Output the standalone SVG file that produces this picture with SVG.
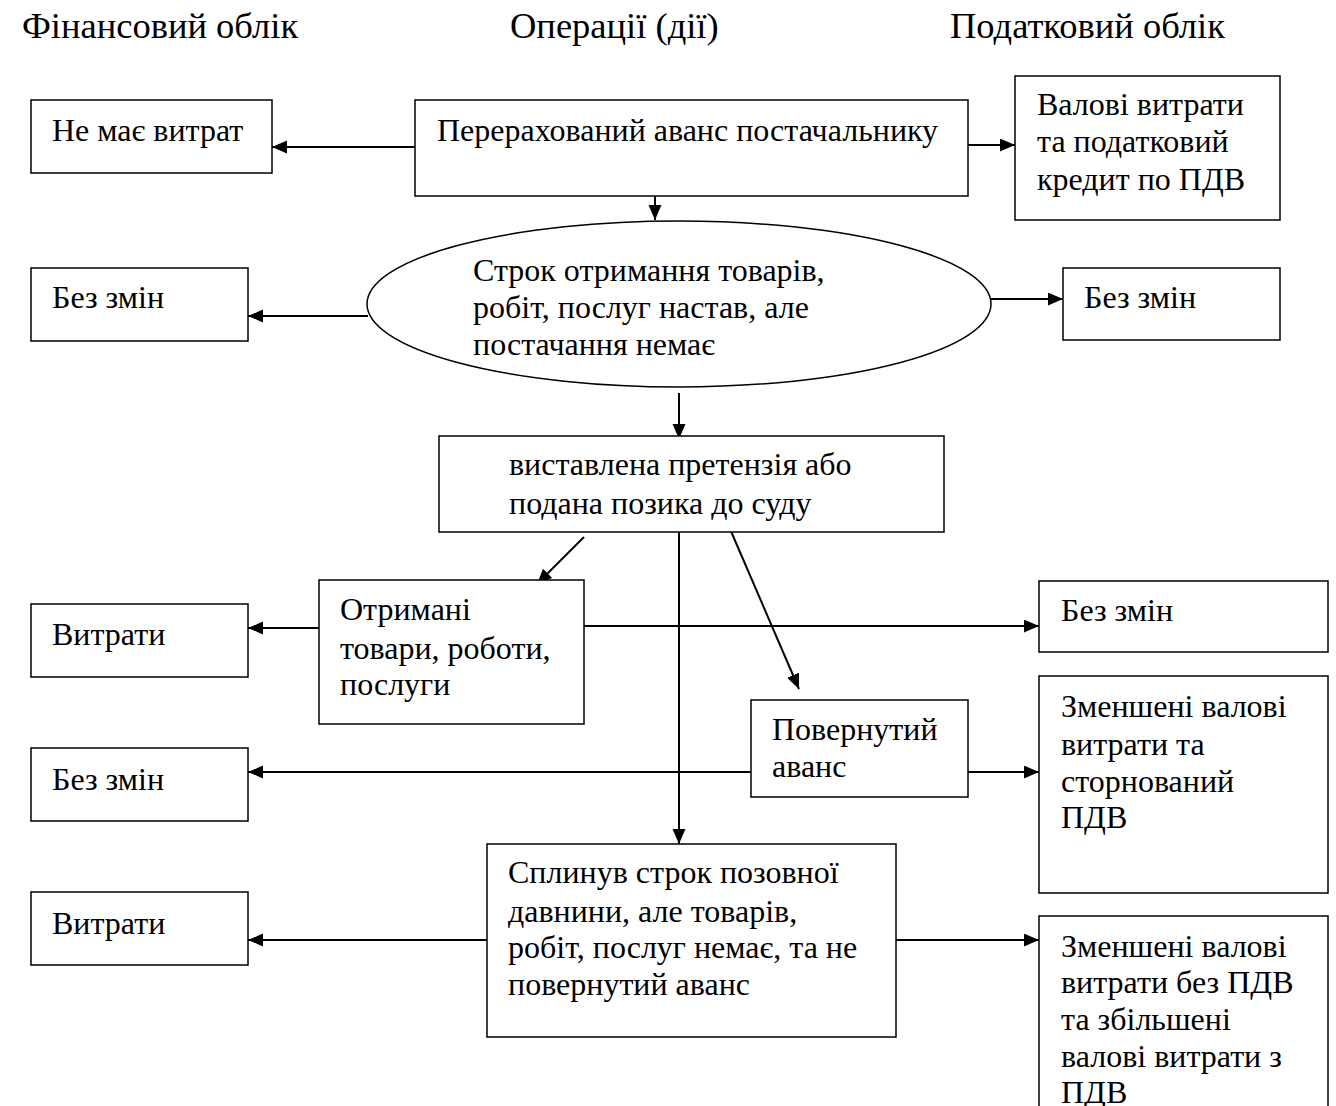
<svg xmlns="http://www.w3.org/2000/svg" width="1336" height="1106" viewBox="0 0 1336 1106">
<style>
text{font-family:"Liberation Serif","Times New Roman",serif;font-size:32px;fill:#000}
.h{font-size:36.5px}
.box{fill:#fff;stroke:#000;stroke-width:1.5}
.c line{stroke:#000;stroke-width:2}
.a{marker-end:url(#ah)}
</style>
<defs>
<marker id="ah" markerUnits="userSpaceOnUse" markerWidth="16" markerHeight="14" refX="15" refY="6.5" orient="auto">
<path d="M0,0 L15,6.5 L0,13 z" fill="#000"/>
</marker>
</defs>
<rect width="1336" height="1106" fill="#fff"/>
<g id="headers">
<text class="h" x="22" y="38">Фінансовий облік</text>
<text class="h" x="510" y="38">Операції (дії)</text>
<text class="h" x="950" y="38">Податковий облік</text>
</g>
<g class="c" id="connectors">
<line class="a" x1="415" y1="147" x2="272" y2="147"/>
<line class="a" x1="968" y1="145" x2="1015" y2="145"/>
<line class="a" x1="655" y1="196" x2="655" y2="220"/>
<line class="a" x1="368" y1="316" x2="248" y2="316"/>
<line class="a" x1="991" y1="299" x2="1063" y2="299"/>
<line class="a" x1="679" y1="393" x2="679" y2="439"/>
<line class="a" x1="584" y1="537" x2="537" y2="584"/>
<line class="a" x1="727" y1="522" x2="799" y2="689"/>
<line class="a" x1="679" y1="532" x2="679" y2="844"/>
<line class="a" x1="319" y1="628" x2="248" y2="628"/>
<line class="a" x1="584" y1="626" x2="1039" y2="626"/>
<line class="a" x1="751" y1="772" x2="248" y2="772"/>
<line class="a" x1="968" y1="772" x2="1039" y2="772"/>
<line class="a" x1="487" y1="940" x2="248" y2="940"/>
<line class="a" x1="896" y1="940" x2="1039" y2="940"/>
</g>
<g id="n-nemae"><rect class="box" x="31" y="100" width="241" height="73"/><text x="52" y="141">Не має витрат</text></g>
<g id="n-avans"><rect class="box" x="415" y="100" width="553" height="96"/><text x="437" y="141">Перерахований аванс постачальнику</text></g>
<g id="n-valovi"><rect class="box" x="1015" y="76" width="265" height="144"/><text x="1037" y="115">Валові витрати</text><text x="1037" y="152">та податковий</text><text x="1037" y="190">кредит по ПДВ</text></g>
<g id="n-bez1"><rect class="box" x="31" y="268" width="217" height="73"/><text x="52" y="308">Без змін</text></g>
<g id="n-strok"><ellipse class="box" cx="679" cy="304" rx="312" ry="83"/><text x="473" y="281">Строк отримання товарів,</text><text x="473" y="318">робіт, послуг настав, але</text><text x="473" y="355">постачання немає</text></g>
<g id="n-bez2"><rect class="box" x="1063" y="268" width="217" height="72"/><text x="1084" y="308">Без змін</text></g>
<g id="n-pretenz"><rect class="box" x="439" y="436" width="505" height="96"/><text x="509" y="475">виставлена претензія або</text><text x="509" y="514">подана позика до суду</text></g>
<g id="n-otrym"><rect class="box" x="319" y="580" width="265" height="144"/><text x="340" y="620">Отримані</text><text x="340" y="659">товари, роботи,</text><text x="340" y="695">послуги</text></g>
<g id="n-vytr1"><rect class="box" x="31" y="604" width="217" height="73"/><text x="52" y="645">Витрати</text></g>
<g id="n-bez3"><rect class="box" x="1039" y="581" width="289" height="71"/><text x="1061" y="621">Без змін</text></g>
<g id="n-povern"><rect class="box" x="751" y="700" width="217" height="97"/><text x="772" y="740">Повернутий</text><text x="772" y="777">аванс</text></g>
<g id="n-bez4"><rect class="box" x="31" y="748" width="217" height="73"/><text x="52" y="790">Без змін</text></g>
<g id="n-zmen1"><rect class="box" x="1039" y="676" width="289" height="217"/><text x="1061" y="717">Зменшені валові</text><text x="1061" y="755">витрати та</text><text x="1061" y="792">сторнований</text><text x="1061" y="828">ПДВ</text></g>
<g id="n-splyn"><rect class="box" x="487" y="844" width="409" height="193"/><text x="508" y="883">Сплинув строк позовної</text><text x="508" y="922">давнини, але товарів,</text><text x="508" y="958">робіт, послуг немає, та не</text><text x="508" y="995">повернутий аванс</text></g>
<g id="n-vytr2"><rect class="box" x="31" y="892" width="217" height="73"/><text x="52" y="934">Витрати</text></g>
<g id="n-zmen2"><rect class="box" x="1039" y="916" width="289" height="210"/><text x="1061" y="957">Зменшені валові</text><text x="1061" y="993">витрати без ПДВ</text><text x="1061" y="1030">та збільшені</text><text x="1061" y="1067">валові витрати з</text><text x="1061" y="1103">ПДВ</text></g>
</svg>
